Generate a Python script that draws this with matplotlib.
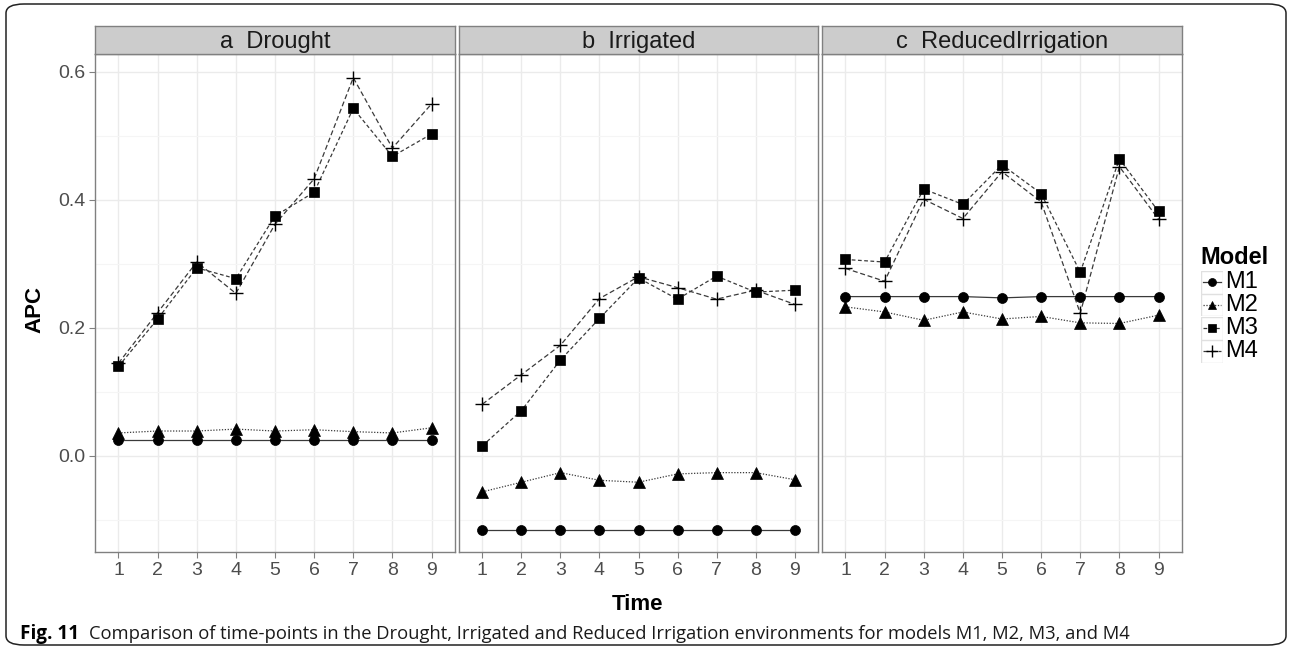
import matplotlib
matplotlib.use("Agg")
import matplotlib.pyplot as plt
from matplotlib.patches import FancyBboxPatch, Rectangle
from matplotlib.lines import Line2D

# APC per time point
TIME = [1, 2, 3, 4, 5, 6, 7, 8, 9]
PANELS = ["a  Drought", "b  Irrigated", "c  ReducedIrrigation"]
MODELS = ["M1", "M2", "M3", "M4"]

DROUGHT_M1 = [0.025, 0.025, 0.025, 0.025, 0.025, 0.025, 0.025, 0.025, 0.025]
DROUGHT_M2 = [0.036, 0.039, 0.039, 0.042, 0.039, 0.041, 0.038, 0.036, 0.044]
DROUGHT_M3 = [0.140, 0.214, 0.294, 0.277, 0.375, 0.412, 0.543, 0.468, 0.503]
DROUGHT_M4 = [0.145, 0.224, 0.303, 0.254, 0.362, 0.433, 0.591, 0.481, 0.550]

IRRIG_M1 = [-0.116, -0.116, -0.116, -0.116, -0.116, -0.116, -0.116, -0.116, -0.116]
IRRIG_M2 = [-0.056, -0.041, -0.026, -0.038, -0.041, -0.028, -0.026, -0.026, -0.037]
IRRIG_M3 = [0.016, 0.071, 0.150, 0.215, 0.278, 0.245, 0.281, 0.256, 0.259]
IRRIG_M4 = [0.081, 0.127, 0.173, 0.246, 0.280, 0.263, 0.245, 0.259, 0.237]

REDUCED_M1 = [0.249, 0.249, 0.249, 0.249, 0.247, 0.249, 0.249, 0.249, 0.249]
REDUCED_M2 = [0.233, 0.225, 0.212, 0.225, 0.214, 0.218, 0.208, 0.207, 0.220]
REDUCED_M3 = [0.307, 0.303, 0.417, 0.393, 0.455, 0.410, 0.287, 0.464, 0.382]
REDUCED_M4 = [0.293, 0.273, 0.401, 0.371, 0.444, 0.397, 0.223, 0.452, 0.370]

SERIES = [
    [DROUGHT_M1, DROUGHT_M2, DROUGHT_M3, DROUGHT_M4],
    [IRRIG_M1, IRRIG_M2, IRRIG_M3, IRRIG_M4],
    [REDUCED_M1, REDUCED_M2, REDUCED_M3, REDUCED_M4],
]

CAPTION = ("Comparison of time-points in the Drought, Irrigated and Reduced "
           "Irrigation environments for models M1, M2, M3, and M4")

# per-model look: marker, marker size, line dash
STYLE = {
    "M1": dict(marker="o", ms=7.2, ls="-"),
    "M2": dict(marker="^", ms=8.0, ls=(0, (1, 1.3))),
    "M3": dict(marker="s", ms=7.0, ls=(0, (3, 2))),
    "M4": dict(marker="+", ms=10.5, ls=(0, (4, 2.2))),
}

W, H = 1290, 653
TICK_C = "#4d4d4d"
BORDER_C = "#808080"
FONT = ["Liberation Sans", "DejaVu Sans"]
plt.rcParams["font.family"] = FONT


def px_axes(fig, x0, x1, y0, y1, **kw):
    """Axes placed by pixel box (y measured from top)."""
    return fig.add_axes([x0 / W, 1 - y1 / H, (x1 - x0) / W, (y1 - y0) / H], **kw)


def draw_series(ax, x, y, name):
    st = STYLE[name]
    ax.plot(x, y, color="#3a3a3a", lw=0.9, ls=st["ls"], zorder=3)
    ax.plot(x, y, ls="none", marker=st["marker"], ms=st["ms"],
            color="black", mew=1.0 if name == "M4" else 0.5, zorder=4)


fig = plt.figure(figsize=(W / 100, H / 100), dpi=100)

# outer rounded frame of the journal figure
frame = FancyBboxPatch((6 / W, 8 / H), 1280 / W, 641 / H,
                       boxstyle="round,pad=0,rounding_size=0.014",
                       transform=fig.transFigure, fill=False,
                       ec="#222222", lw=1.1)
fig.patches.append(frame)

panel_x = [(95, 455), (459, 818), (822, 1182)]
TOP, BOTTOM, STRIP = 54, 552, 26

for i, ((x0, x1), title, series) in enumerate(zip(panel_x, PANELS, SERIES)):
    ax = px_axes(fig, x0, x1, TOP, BOTTOM)
    ax.set_xlim(0.4, 9.6)
    ax.set_ylim(-0.15, 0.628)
    ax.set_xticks(TIME)
    ax.set_xticklabels([str(t) for t in TIME])
    ax.set_yticks([0.0, 0.2, 0.4, 0.6])
    ax.set_yticks([-0.1, 0.1, 0.3, 0.5], minor=True)
    ax.grid(True, which="major", color="#ebebeb", lw=1.0, zorder=0)
    ax.grid(True, which="minor", axis="y", color="#f5f5f5", lw=0.8, zorder=0)
    ax.set_axisbelow(True)
    for sp in ax.spines.values():
        sp.set_color(BORDER_C)
        sp.set_linewidth(1.0)
    ax.tick_params(axis="both", which="major", length=4, color=BORDER_C,
                   labelsize=14, labelcolor=TICK_C, pad=3)
    ax.tick_params(axis="y", which="minor", length=0)
    if i == 0:
        ax.set_yticklabels(["0.0", "0.2", "0.4", "0.6"])
    else:
        ax.tick_params(axis="y", which="major", length=0, labelleft=False)

    for name, vals in zip(MODELS, series):
        draw_series(ax, TIME, vals, name)

    # facet strip
    sax = px_axes(fig, x0, x1, STRIP, TOP)
    sax.set_xticks([])
    sax.set_yticks([])
    sax.set_facecolor("#cccccc")
    for sp in sax.spines.values():
        sp.set_color(BORDER_C)
        sp.set_linewidth(1.0)
    sax.text(0.5, 0.42, title, ha="center", va="center", fontsize=17,
             color="#1a1a1a", transform=sax.transAxes)

fig.text(35 / W, 1 - 310 / H, "APC", rotation=90, ha="center", va="center",
         fontsize=16, fontweight="bold")
fig.text(638 / W, 1 - 604 / H, "Time", ha="center", va="center",
         fontsize=16, fontweight="bold")

# legend, ggplot style with boxed keys
fig.text(1200 / W, 1 - 257 / H, "Model", ha="left", va="center",
         fontsize=17, fontweight="bold")
key_y = [282, 305, 328, 351]
for name, ky in zip(MODELS, key_y):
    kax = px_axes(fig, 1201, 1223, ky - 11.5, ky + 11.5)
    kax.set_xlim(0, 1)
    kax.set_ylim(0, 1)
    kax.axis("off")
    kax.add_patch(Rectangle((0, 0), 1, 1, fill=False, ec="#e0e0e0", lw=1.0,
                            transform=kax.transAxes))
    st = STYLE[name]
    kax.add_line(Line2D([0.1, 0.9], [0.5, 0.5], color="#3a3a3a", lw=0.9,
                        ls=st["ls"]))
    kax.add_line(Line2D([0.5], [0.5], ls="none", marker=st["marker"],
                        ms=st["ms"] * 0.8, color="black",
                        mew=1.0 if name == "M4" else 0.5))
    fig.text(1225 / W, 1 - ky / H, name, ha="left", va="center", fontsize=17)

# caption
cap_font = ["Open Sans", "DejaVu Sans"]
t1 = fig.text(20 / W, 1 - 634 / H, "Fig. 11", ha="left", va="center",
              fontsize=13.6, fontweight="bold", family=cap_font)
fig.canvas.draw()
bb = t1.get_window_extent()
fig.text((bb.x1 + 10) / W, 1 - 634 / H, CAPTION, ha="left", va="center",
         fontsize=13.2, family=cap_font, color="#1a1a1a")

fig.savefig("out.png", dpi=100)
